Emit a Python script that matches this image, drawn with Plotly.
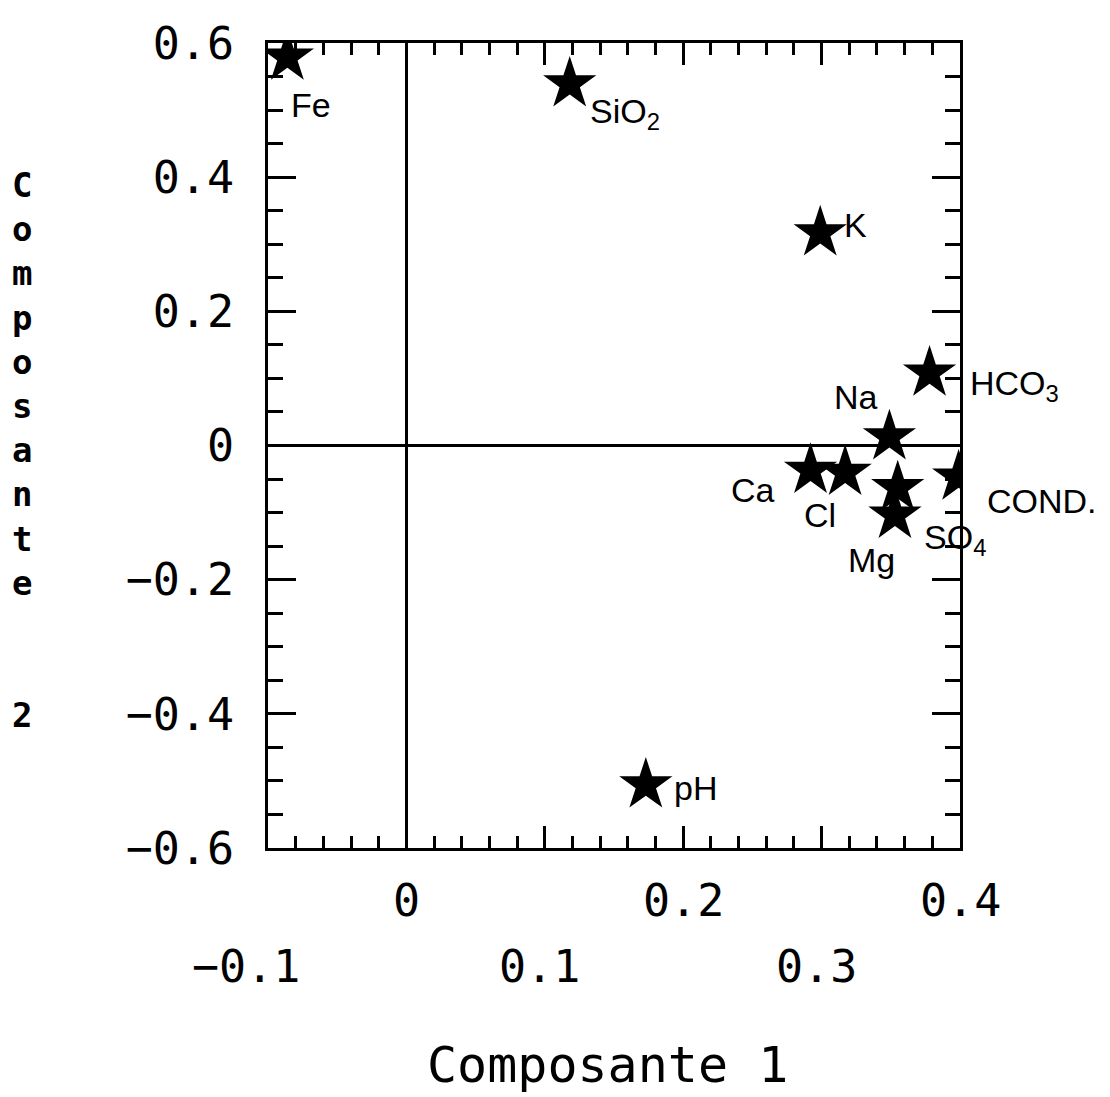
import plotly.graph_objects as go

# Data
variables = ["Fe", "SiO<sub>2</sub>", "K", "HCO<sub>3</sub>", "Na", "Ca", "Cl", "COND.", "SO<sub>4</sub>", "Mg", "pH"]
comp1 = [-0.086, 0.118, 0.299, 0.378, 0.349, 0.292, 0.317, 0.399, 0.355, 0.353, 0.173]
comp2 = [0.579, 0.539, 0.317, 0.108, 0.013, -0.037, -0.040, -0.047, -0.063, -0.104, -0.506]

x_ticks_upper = [0, 0.2, 0.4]
x_ticks_lower = [-0.1, 0.1, 0.3]
y_ticks = [0.6, 0.4, 0.2, 0, -0.2, -0.4, -0.6]

# label placement (anchor, pixel offsets)
label_pos = {
    "Fe": ("left", "middle", 2, -48),
    "SiO<sub>2</sub>": ("left", "middle", 18, -30),
    "K": ("left", "middle", 22, 8),
    "HCO<sub>3</sub>": ("left", "middle", 38, -12),
    "Na": ("center", "middle", -33, 40),
    "Ca": ("right", "middle", -34, -20),
    "Cl": ("center", "middle", -25, -43),
    "COND.": ("left", "middle", 26, -24),
    "SO<sub>4</sub>": ("left", "middle", 24, -52),
    "Mg": ("center", "middle", -23, -45),
    "pH": ("left", "middle", 26, -3),
}

mono = "DejaVu Sans Mono"
sans = "Liberation Sans"


def fmt(v):
    return f"{v:g}".replace("-", "\u2212")


fig = go.Figure()
fig.add_trace(go.Scatter(
    x=comp1, y=comp2, mode="markers",
    marker=dict(symbol="star", size=40, color="black", line=dict(width=0)),
    hoverinfo="skip", showlegend=False,
))

for name, xv, yv in zip(variables, comp1, comp2):
    xa, ya, dx, dy = label_pos[name]
    fig.add_annotation(x=xv, y=yv, xref="x", yref="y", text=name, showarrow=False,
                       xanchor=xa, yanchor=ya, xshift=dx, yshift=dy,
                       font=dict(family=sans, size=34, color="black"))

for v in x_ticks_upper:
    fig.add_annotation(x=v, y=0, xref="x", yref="paper", text=fmt(v),
                       showarrow=False, xanchor="center", yanchor="middle", yshift=-52,
                       font=dict(family=mono, size=45, color="black"))
for v in x_ticks_lower:
    fig.add_annotation(x=v, y=0, xref="x", yref="paper", text=fmt(v),
                       showarrow=False, xanchor="center", yanchor="middle", yshift=-118,
                       xshift=-22 if v < 0 else -5,
                       font=dict(family=mono, size=45, color="black"))

# axis titles
fig.add_annotation(x=(607 - 268) / 692, y=-(1065 - 848) / 805, xref="paper", yref="paper",
                   text="Composante 1", showarrow=False, xanchor="center", yanchor="middle",
                   font=dict(family=mono, size=50, color="black"))
fig.add_annotation(x=(22 - 268) / 692, y=(848 - 450) / 805, xref="paper", yref="paper",
                   text="<br>".join(list("Composante") + ["\u00a0", "\u00a0", "2"]),
                   showarrow=False, xanchor="center", yanchor="middle",
                   font=dict(family=mono, size=34, color="black", weight="bold"))

fig.update_xaxes(
    range=[-0.1, 0.4], showgrid=False, showticklabels=False,
    tickvals=x_ticks_lower + x_ticks_upper, ticks="inside", ticklen=22, tickwidth=3, tickcolor="black",
    minor=dict(dtick=0.02, tick0=0, ticks="inside", ticklen=12, tickwidth=3, tickcolor="black"),
    showline=True, linewidth=3, linecolor="black", mirror="ticks",
    zeroline=True, zerolinecolor="black", zerolinewidth=2.5,
)
fig.update_yaxes(
    range=[-0.6, 0.6], showgrid=False,
    tickvals=y_ticks, ticktext=[fmt(v) for v in y_ticks],
    ticks="inside", ticklen=28, tickwidth=3, tickcolor="black",
    minor=dict(dtick=0.05, tick0=0, ticks="inside", ticklen=15, tickwidth=3, tickcolor="black"),
    showline=True, linewidth=3, linecolor="black", mirror="ticks",
    zeroline=True, zerolinecolor="black", zerolinewidth=2.5,
    tickfont=dict(family=mono, size=45, color="black"), ticklabelstandoff=22,
)
fig.update_layout(
    width=1110, height=1097,
    margin=dict(l=268, r=150, t=43, b=249),
    plot_bgcolor="white", paper_bgcolor="white",
)
fig.write_html("out.html")
